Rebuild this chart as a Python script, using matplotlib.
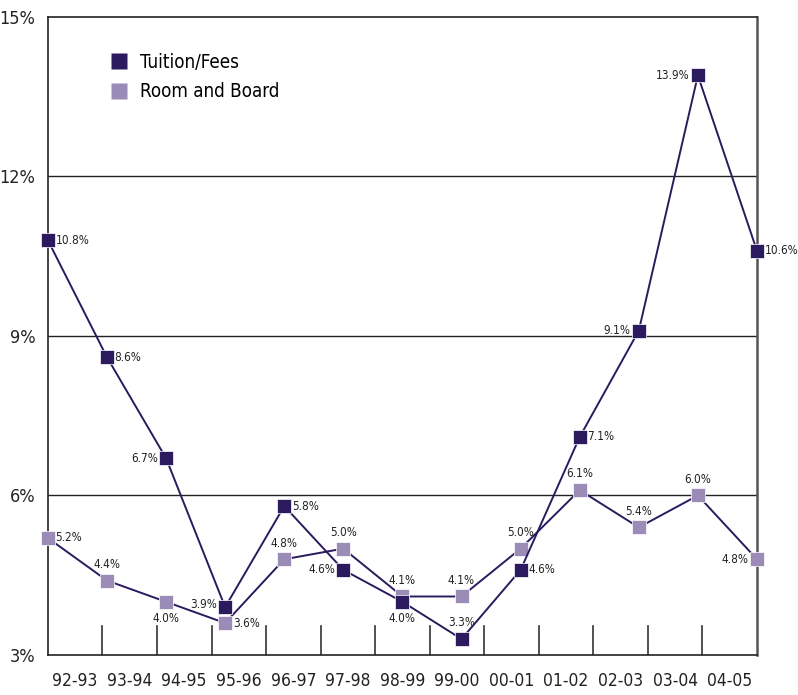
import matplotlib.pyplot as plt
from matplotlib.lines import Line2D

years = ['92-93', '93-94', '94-95', '95-96', '96-97', '97-98', '98-99',
         '99-00', '00-01', '01-02', '02-03', '03-04', '04-05']
tuition = [10.8, 8.6, 6.7, 3.9, 5.8, 4.6, 4.0, 3.3, 4.6, 7.1, 9.1, 13.9, 10.6]
room = [5.2, 4.4, 4.0, 3.6, 4.8, 5.0, 4.1, 4.1, 5.0, 6.1, 5.4, 6.0, 4.8]

# where each value label goes relative to its marker
tuition_pos = ['r', 'r', 'l', 'tl', 'r', 'l', 'b', 't', 'r', 'r', 'l', 'l', 'r']
room_pos = ['r', 't', 'b', 'r', 't', 't', 't', 't', 't', 't', 't', 't', 'l']

dark = '#2b1a5e'
light = '#9a8cb6'

plt.rcParams['font.family'] = ['DejaVu Sans']
plt.rcParams['font.stretch'] = 'condensed'

fig = plt.figure(figsize=(7.98, 6.95), dpi=100)
ax = fig.add_axes([0.060, 0.0576, 0.8886, 0.918])

x = list(range(len(years)))
ax.plot(x, tuition, color=dark, lw=1.4, marker='s', ms=10,
        mfc=dark, mec='#ffffff', mew=0.5, clip_on=False, zorder=4)
ax.plot(x, room, color=dark, lw=1.4, zorder=3, clip_on=False)
ax.plot(x, room, ls='none', marker='s', ms=10,
        mfc=light, mec='#ffffff', mew=0.5, clip_on=False, zorder=3)

offsets = {'r': ((5.5, 0), 'left', 'center'), 'l': ((-6, 0), 'right', 'center'),
           't': ((0, 7), 'center', 'bottom'), 'b': ((0, -7), 'center', 'top'),
           'tl': ((-6, 2), 'right', 'center')}


def label(xs, ys, poss):
    for xi, yi, p in zip(xs, ys, poss):
        off, ha, va = offsets[p]
        ax.annotate(f'{yi:.1f}%', (xi, yi), xytext=off, textcoords='offset points',
                    ha=ha, va=va, fontsize=8.5, color='#222222')


label(x, tuition, tuition_pos)
label(x, room, room_pos)

ax.set_xlim(0, 12)
ax.set_ylim(3, 15)
ax.set_yticks([3, 6, 9, 12, 15])
ax.set_yticklabels(['3%', '6%', '9%', '12%', '15%'], fontsize=13, color='#222222')
for g in [6, 9, 12]:
    ax.axhline(g, color='#222222', lw=1.0, zorder=1)

n = len(years)
w = 12 / n
ax.set_xticks([(k + 0.5) * w for k in range(n)])
ax.set_xticklabels(years, fontsize=12.5, color='#222222')
ax.tick_params(axis='x', length=0, pad=12)
ax.tick_params(axis='y', length=0, pad=9)
for k in range(1, n):
    ax.plot([k * w, k * w], [3, 3.55], color='#333333', lw=1.2, zorder=2)

for s in ['left', 'bottom', 'top']:
    ax.spines[s].set_color('#222222')
    ax.spines[s].set_linewidth(1.2)
ax.spines['right'].set_color('#555555')
ax.spines['right'].set_linewidth(1.8)

handles = [Line2D([], [], ls='none', marker='s', ms=12, mfc=dark, mec='none'),
           Line2D([], [], ls='none', marker='s', ms=12, mfc=light, mec='none')]
ax.legend(handles, ['Tuition/Fees', 'Room and Board'], loc='upper left',
          bbox_to_anchor=(0.05, 0.97), frameon=False, fontsize=13.5,
          handletextpad=0.1, labelspacing=0.55)

fig.savefig('out.png', dpi=100)
